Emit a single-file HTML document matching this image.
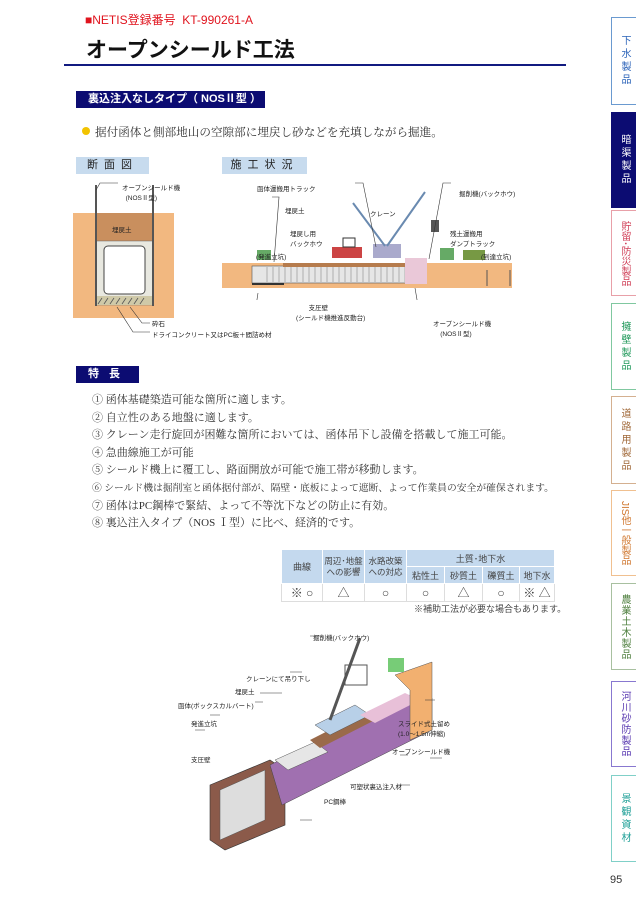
<!DOCTYPE html>
<html><head><meta charset="utf-8"><style>
*{margin:0;padding:0;box-sizing:border-box}
body{width:636px;height:900px;background:#fff;position:relative;overflow:hidden;font-family:"Liberation Sans","Noto Sans CJK JP",sans-serif}
.a{position:absolute;white-space:nowrap}
.bar{position:absolute;background:#0c0c72;color:#fff;font-size:11px;font-weight:bold;line-height:17px}
.lb{position:absolute;background:#c7dbee;color:#222;font-size:11px;line-height:17px;text-align:center;letter-spacing:6px}
.ser{font-family:"Liberation Serif","Noto Serif CJK SC",serif;color:#333;font-size:11px}
.tab{position:absolute;left:611px;width:26px;border:1px solid;border-right:none;writing-mode:vertical-rl;font-size:10px;display:flex;align-items:center;justify-content:center;letter-spacing:3px;background:#fff}
table{position:absolute;left:281px;top:549px;border-collapse:collapse;font-size:9px;color:#444;table-layout:fixed}
td{border:1px solid #fff;text-align:center;padding:0;white-space:nowrap;overflow:hidden}
.h{background:#c4d9ee}
.d td{border:1px solid #ddd;height:17px;font-size:12px;background:#fff}
.t{font-size:6.5px;color:#222;position:absolute;white-space:nowrap}
</style></head><body>
<div class="a" style="left:85px;top:11px;color:#e0141e;font-size:12px">■NETIS登録番号&nbsp; KT-990261-A</div>
<div class="a" style="left:86px;top:34px;font-size:21px;font-weight:bold;color:#111">オープンシールド工法</div>
<div class="a" style="left:64px;top:64px;width:502px;height:2px;background:#111a80"></div>
<div class="bar" style="left:76px;top:91px;width:189px;padding-left:12px">裏込注入なしタイプ（ NOSⅡ型 ）</div>
<div class="a" style="left:82px;top:127px;width:8px;height:8px;border-radius:50%;background:#f2c300"></div>
<div class="a ser" style="left:95px;top:124px;font-size:11.6px">据付函体と側部地山の空隙部に埋戻し砂などを充填しながら掘進。</div>
<div class="lb" style="left:76px;top:157px;width:73px">断面図</div>
<div class="lb" style="left:222px;top:157px;width:85px">施工状況</div>
<svg class="a" style="left:60px;top:180px" width="200" height="170">
<rect x="13" y="33" width="101" height="105" fill="#f2b880"/>
<rect x="36" y="33" width="57" height="35" fill="#c98f5e"/>
<rect x="36" y="61" width="57" height="64" fill="#e8e8e0" stroke="#666" stroke-width=".5"/>
<rect x="44" y="66" width="41" height="48" rx="4" fill="#fff" stroke="#444"/>
<rect x="36" y="116" width="57" height="9" fill="#cfc9a8"/>
<path d="M38 124l4-6M44 124l4-6M50 124l4-6M56 124l4-6M62 124l4-6M68 124l4-6M74 124l4-6M80 124l4-6" stroke="#555" stroke-width=".8"/>
<line x1="36" y1="5" x2="36" y2="126" stroke="#555" stroke-width="2"/><line x1="93" y1="5" x2="93" y2="126" stroke="#555" stroke-width="2"/>
<path d="M36 10L40 3H58M70 127l12 16H90M57 127l16 25H90" stroke="#333" fill="none" stroke-width=".6"/>
</svg>
<div class="t" style="left:122px;top:182px">オープンシールド機<br>&nbsp;&nbsp;(NOSⅡ型)</div>
<div class="t" style="left:112px;top:224px">埋戻土</div>
<div class="t" style="left:152px;top:318px">砕石</div>
<div class="t" style="left:152px;top:329px">ドライコンクリート又はPC板＋間詰め材</div>
<svg class="a" style="left:215px;top:180px" width="300" height="120">
<rect x="7" y="83" width="290" height="25" fill="#f2b880"/>
<rect x="37" y="86" width="170" height="17" fill="#e6e6e6" stroke="#555" stroke-width=".6"/>
<path d="M52 87v15M58 87v15M64 87v15M70 87v15M76 87v15M82 87v15M88 87v15M94 87v15M100 87v15M106 87v15M112 87v15M118 87v15M124 87v15M130 87v15M136 87v15M142 87v15M148 87v15M154 87v15M160 87v15M166 87v15M172 87v15M178 87v15M184 87v15M190 87v15M196 87v15" stroke="#777" stroke-width=".5"/>
<rect x="68" y="83" width="140" height="4" fill="#b67c4d"/>
<rect x="190" y="78" width="22" height="26" fill="#eac8d8"/>
<rect x="37" y="103" width="32" height="2" fill="#333"/>
<rect x="117" y="67" width="30" height="11" fill="#c44"/>
<rect x="128" y="58" width="12" height="9" fill="#fff" stroke="#333"/>
<rect x="158" y="64" width="28" height="14" fill="#aac"/>
<path d="M170 66L138 23M172 66L210 12" stroke="#6a8ab0" stroke-width="2"/>
<rect x="216" y="40" width="8" height="12" fill="#555"/>
<rect x="42" y="70" width="14" height="10" fill="#6a6"/>
<rect x="225" y="68" width="14" height="12" fill="#6a6"/>
<rect x="248" y="70" width="22" height="10" fill="#794"/>
<line x1="272" y1="90" x2="272" y2="106" stroke="#555"/><line x1="295" y1="90" x2="295" y2="106" stroke="#555"/>
<path d="M140 3H148L161 67M57 17h7l-5 65M236 3h-8l-14 76M43 113l-4 26H32M200 108l12 70" stroke="#333" fill="none" stroke-width=".6"/>
</svg>
<div class="t" style="left:257px;top:183px">函体運搬用トラック</div>
<div class="t" style="left:285px;top:205px">埋戻土</div>
<div class="t" style="left:370px;top:208px">クレーン</div>
<div class="t" style="left:290px;top:228px">埋戻し用<br>バックホウ</div>
<div class="t" style="left:459px;top:188px">掘削機(バックホウ)</div>
<div class="t" style="left:450px;top:228px">残土運搬用<br>ダンプトラック</div>
<div class="t" style="left:256px;top:251px">(発進立坑)</div>
<div class="t" style="left:481px;top:251px">(到達立坑)</div>
<div class="t" style="left:296px;top:302px">&nbsp;&nbsp;&nbsp;&nbsp;&nbsp;&nbsp;&nbsp;支圧壁<br>(シールド機推進反動台)</div>
<div class="t" style="left:433px;top:318px">オープンシールド機<br>&nbsp;&nbsp;&nbsp;&nbsp;(NOSⅡ型)</div>
<div class="bar" style="left:76px;top:366px;width:63px;padding-left:12px;letter-spacing:10px">特長</div>
<div class="a ser" style="left:92px;top:392px;line-height:17.6px">
① 函体基礎築造可能な箇所に適します。<br>② 自立性のある地盤に適します。<br>③ クレーン走行旋回が困難な箇所においては、函体吊下し設備を搭載して施工可能。<br>④ 急曲線施工が可能<br>⑤ シールド機上に覆工し、路面開放が可能で施工帯が移動します。<br><span style="font-size:9.8px">⑥ シールド機は掘削室と函体据付部が、隔壁・底板によって遮断、よって作業員の安全が確保されます。</span><br>⑦ 函体はPC鋼棒で緊結、よって不等沈下などの防止に有効。<br>⑧ 裏込注入タイプ（NOS Ⅰ型）に比べ、経済的です。</div>
<table>
<colgroup><col style="width:41px"><col style="width:42px"><col style="width:42px"><col style="width:38px"><col style="width:38px"><col style="width:37px"><col style="width:35px"></colgroup>
<tr class="h"><td rowspan="2" style="height:34px">曲線</td><td rowspan="2" style="line-height:11px;font-size:8.5px">周辺･地盤<br>への影響</td><td rowspan="2" style="line-height:11px;font-size:8.5px">水路改築<br>への対応</td><td colspan="4" style="height:17px">土質･地下水</td></tr>
<tr class="h"><td style="height:17px">粘性土</td><td>砂質土</td><td>礫質土</td><td>地下水</td></tr>
<tr class="d"><td>※ ○</td><td>△</td><td>○</td><td>○</td><td>△</td><td>○</td><td>※ △</td></tr>
</table>
<div class="a" style="left:414px;top:602px;font-size:9px;color:#444">※補助工法が必要な場合もあります。</div>
<svg class="a" style="left:170px;top:620px" width="280" height="250">
<polygon points="40,165 100,140 115,150 115,205 55,230 40,220" fill="#8b5a4a" stroke="#333" stroke-width=".6"/>
<polygon points="50,170 95,150 95,200 50,220" fill="#ddd" stroke="#555" stroke-width=".5"/>
<polygon points="100,145 250,70 262,78 262,110 112,185" fill="#a070b0" stroke="#444" stroke-width=".5"/>
<polygon points="105,140 145,122 158,132 118,150" fill="#e6e6e6" stroke="#555" stroke-width=".5"/>
<polygon points="140,120 195,92 205,100 150,128" fill="#9a6a4a"/>
<polygon points="145,105 185,85 200,95 160,115" fill="#b8d0e8" stroke="#555" stroke-width=".5"/>
<line x1="160" y1="100" x2="190" y2="18" stroke="#555" stroke-width="3"/>
<rect x="175" y="45" width="22" height="20" fill="none" stroke="#555"/>
<polygon points="190,95 235,73 250,80 205,103" fill="#e8c0d8"/>
<polygon points="225,55 262,42 262,110 240,120 240,70" fill="#f2b070" stroke="#555" stroke-width=".5"/>
<rect x="218" y="38" width="16" height="14" fill="#7c7"/>
<path d="M140 16h10M120 52h12M90 73h22M85 82h8M40 95h10M25 110h10M255 80h10M230 135h8M260 138h12M228 165h12M130 200h12" stroke="#333" stroke-width=".6" fill="none"/>
</svg>
<div class="t" style="left:313px;top:632px">掘削機(バックホウ)</div>
<div class="t" style="left:246px;top:673px">クレーンにて吊り下し</div>
<div class="t" style="left:235px;top:686px">埋戻土</div>
<div class="t" style="left:178px;top:700px">函体(ボックスカルバート)</div>
<div class="t" style="left:191px;top:718px">発進立坑</div>
<div class="t" style="left:191px;top:754px">支圧壁</div>
<div class="t" style="left:398px;top:718px">スライド式土留め<br>(1.0～1.5m伸縮)</div>
<div class="t" style="left:392px;top:746px">オープンシールド機</div>
<div class="t" style="left:350px;top:781px">可塑状裏込注入材</div>
<div class="t" style="left:324px;top:796px">PC鋼棒</div>
<div class="tab" style="top:17px;height:88px;border-color:#6a9ad0;color:#2a62b8">下水製品</div>
<div class="tab" style="top:112px;height:96px;border-color:#0c0c72;background:#0c0c72;color:#fff">暗渠製品</div>
<div class="tab" style="top:210px;height:86px;border-color:#e8a0a8;color:#d04058;letter-spacing:0">貯留･防災製品</div>
<div class="tab" style="top:303px;height:87px;border-color:#80c8a0;color:#20985a">擁壁製品</div>
<div class="tab" style="top:396px;height:88px;border-color:#d4b090;color:#a06838">道路用製品</div>
<div class="tab" style="top:490px;height:86px;border-color:#f0c090;color:#d07830;letter-spacing:0">JIS他一般製品</div>
<div class="tab" style="top:583px;height:87px;border-color:#a8c0a0;color:#508040;letter-spacing:1px">農業土木製品</div>
<div class="tab" style="top:681px;height:86px;border-color:#8878d0;color:#5838b0;letter-spacing:1px">河川砂防製品</div>
<div class="tab" style="top:775px;height:87px;border-color:#80d0c8;color:#20a098">景観資材</div>
<div class="a" style="left:610px;top:874px;font-size:11px;color:#333">95</div>
</body></html>
